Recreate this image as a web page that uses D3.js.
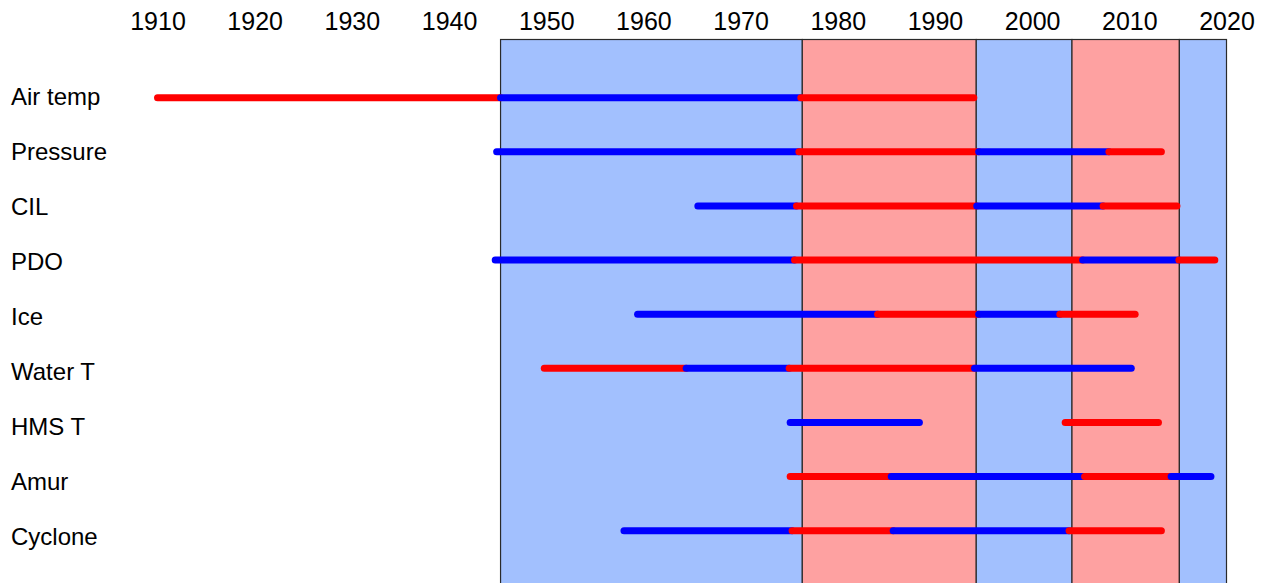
<!DOCTYPE html>
<html>
<head>
<meta charset="utf-8">
<script src="https://cdn.jsdelivr.net/npm/d3@7/dist/d3.min.js"></script>
<style>
  html, body { margin: 0; padding: 0; background: #fff; }
  svg { display: block; font-family: "Liberation Sans", Arial, sans-serif; }
</style>
</head>
<body>
<svg id="chart" width="1274" height="583"></svg>
<script>
// Row labels, top to bottom
const rows = ["Air temp", "Pressure", "CIL", "PDO", "Ice", "Water T", "HMS T", "Amur", "Cyclone"];

// Year ticks along the top
const tickYears = [1910, 1920, 1930, 1940, 1950, 1960, 1970, 1980, 1990, 2000, 2010, 2020];

// Regime periods shown as background bands
const regimeStart = [1945.3, 1976.35, 1994.25, 2004.1, 2015.15];
const regimeEnd   = [1976.35, 1994.25, 2004.1, 2015.15, 2020];
const regimePhase = ["cold", "warm", "cold", "warm", "cold"];

// Phase segments per series: [from, to, phase]
const airTemp  = [[1910, 1945.3, "warm"], [1945.3, 1976.2, "cold"], [1976.2, 1994.0, "warm"]];
const pressure = [[1944.9, 1976.0, "cold"], [1976.0, 1994.5, "warm"], [1994.5, 2007.9, "cold"], [2007.9, 2013.3, "warm"]];
const cil      = [[1965.6, 1975.75, "cold"], [1975.75, 1994.3, "warm"], [1994.3, 2007.3, "cold"], [2007.3, 2014.9, "warm"]];
const pdo      = [[1944.75, 1975.55, "cold"], [1975.55, 2005.2, "warm"], [2005.2, 2015.1, "cold"], [2015.1, 2018.8, "warm"]];
const ice      = [[1959.4, 1984.1, "cold"], [1984.1, 1994.5, "warm"], [1994.5, 2002.85, "cold"], [2002.85, 2010.6, "warm"]];
const waterT   = [[1949.8, 1964.4, "warm"], [1964.4, 1975.0, "cold"], [1975.0, 1994.07, "warm"], [1994.07, 2010.2, "cold"]];
const hmsT     = [[1975.1, 1988.4, "cold"], [2003.4, 2013.0, "warm"]];
const amur     = [[1975.1, 1985.5, "warm"], [1985.5, 2005.4, "cold"], [2005.4, 2014.3, "warm"], [2014.3, 2018.4, "cold"]];
const cyclone  = [[1958.0, 1975.3, "cold"], [1975.3, 1985.7, "warm"], [1985.7, 2003.8, "cold"], [2003.8, 2013.3, "warm"]];

const seriesSegments = [airTemp, pressure, cil, pdo, ice, waterT, hmsT, amur, cyclone];

const bandColor = { cold: "#a2c0fe", warm: "#fea1a1" };
const lineColor = { cold: "#0000ff", warm: "#ff0000" };

const svg = d3.select("#chart");
const W = 1274, H = 583;

// Horizontal time scale
const x = d3.scaleLinear().domain([1910, 2020]).range([157.5, 1226.5]);

// Vertical placement of series lines and their labels
const yLine = d3.scalePoint().domain(rows).range([97.7, 530.7]);
const yLabel = d3.scalePoint().domain(rows).range([105, 545]);

// Background regime bands
svg.append("g").selectAll("rect")
  .data(regimeStart.map((s, i) => ({ s, e: regimeEnd[i], p: regimePhase[i] })))
  .join("rect")
  .attr("x", d => x(d.s))
  .attr("y", 39.5)
  .attr("width", d => x(d.e) - x(d.s))
  .attr("height", H - 39.5 + 5)
  .attr("fill", d => bandColor[d.p])
  .attr("stroke", "#2a2a2a")
  .attr("stroke-width", 1.2);

// Top year axis (labels only)
const axis = d3.axisTop(x).tickValues(tickYears).tickFormat(d3.format("d")).tickSize(0).tickPadding(0);
const gAxis = svg.append("g").attr("transform", "translate(0,29.5)").call(axis);
gAxis.select(".domain").remove();
gAxis.selectAll("text")
  .attr("font-size", 25)
  .attr("font-family", "Liberation Sans, Arial, sans-serif")
  .attr("fill", "#000");

// Row labels
svg.append("g").selectAll("text")
  .data(rows)
  .join("text")
  .attr("x", 11)
  .attr("y", d => yLabel(d))
  .attr("font-size", 24)
  .attr("fill", "#000")
  .text(d => d);

// Phase segments
const segData = [];
seriesSegments.forEach((segs, i) => {
  segs.forEach(([from, to, phase]) => segData.push({ row: rows[i], from, to, phase }));
});

svg.append("g").selectAll("line")
  .data(segData)
  .join("line")
  .attr("x1", d => x(d.from))
  .attr("x2", d => x(d.to))
  .attr("y1", d => yLine(d.row))
  .attr("y2", d => yLine(d.row))
  .attr("stroke", d => lineColor[d.phase])
  .attr("stroke-width", 7)
  .attr("stroke-linecap", "round");
</script>
</body>
</html>
